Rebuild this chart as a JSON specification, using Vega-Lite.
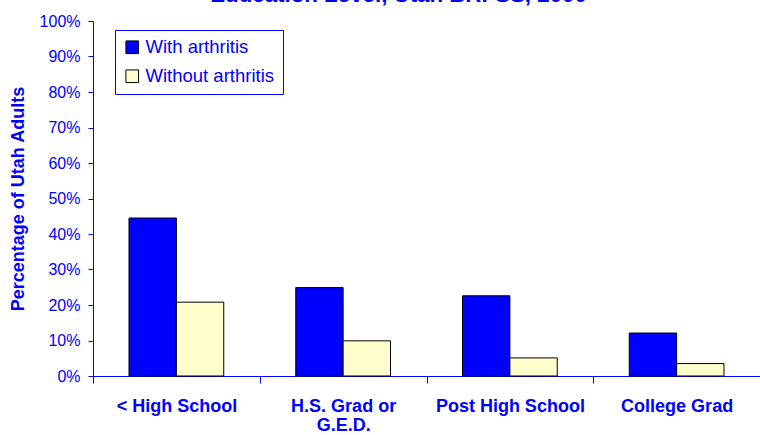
{
  "$schema": "https://vega.github.io/schema/vega-lite/v6.json",
  "width": 667,
  "height": 355,
  "autosize": {"type": "none"},
  "padding": {"left": 93, "top": 21, "right": 0, "bottom": 59},
  "background": "white",
  "title": {
    "text": "Education Level, Utah BRFSS, 2000",
    "font": "Liberation Sans",
    "fontSize": 22.3,
    "fontWeight": "bold",
    "color": "#0000FF",
    "anchor": "middle",
    "baseline": "alphabetic",
    "offset": 0,
    "dx": -28,
    "dy": 11
  },
  "data": {
    "values": [
      {"edu": "< High School", "group": "With arthritis", "pct": 0.445},
      {"edu": "< High School", "group": "Without arthritis", "pct": 0.208},
      {"edu": "H.S. Grad or|G.E.D.", "group": "With arthritis", "pct": 0.249},
      {"edu": "H.S. Grad or|G.E.D.", "group": "Without arthritis", "pct": 0.099},
      {"edu": "Post High School", "group": "With arthritis", "pct": 0.226},
      {"edu": "Post High School", "group": "Without arthritis", "pct": 0.051},
      {"edu": "College Grad", "group": "With arthritis", "pct": 0.121},
      {"edu": "College Grad", "group": "Without arthritis", "pct": 0.035}
    ]
  },
  "mark": {"type": "bar", "stroke": "black", "strokeWidth": 1},
  "encoding": {
    "x": {
      "field": "edu",
      "type": "nominal",
      "sort": null,
      "scale": {"paddingInner": 0, "paddingOuter": 0},
      "axis": {
        "title": null,
        "labelAngle": 0,
        "labelExpr": "split(datum.label, '|')",
        "labelFont": "Liberation Sans",
        "labelFontSize": 18,
        "labelFontWeight": "bold",
        "labelColor": "#0000FF",
        "labelLineHeight": 19,
        "labelPadding": 14,
        "labelBaseline": "top",
        "tickBand": "extent",
        "tickColor": "#0000FF",
        "tickSize": 7,
        "domainColor": "#0000FF",
        "grid": false
      }
    },
    "xOffset": {
      "field": "group",
      "type": "nominal",
      "scale": {"paddingInner": 0, "paddingOuter": 0.76}
    },
    "y": {
      "field": "pct",
      "type": "quantitative",
      "scale": {"domain": [0, 1], "nice": false},
      "axis": {
        "title": "Percentage of Utah Adults",
        "titleFont": "Liberation Sans",
        "titleFontSize": 18,
        "titleFontWeight": "bold",
        "titleColor": "#0000FF",
        "titlePadding": 12,
        "format": ".0%",
        "values": [0, 0.1, 0.2, 0.3, 0.4, 0.5, 0.6, 0.7, 0.8, 0.9, 1],
        "labelFont": "Liberation Sans",
        "labelFontSize": 16,
        "labelColor": "#0000FF",
        "labelPadding": 8,
        "tickColor": "#0000FF",
        "tickSize": 5,
        "domainColor": "#0000FF",
        "grid": false
      }
    },
    "fill": {
      "field": "group",
      "type": "nominal",
      "scale": {"domain": ["With arthritis", "Without arthritis"], "range": ["#0000FF", "#FFFFCC"]},
      "legend": {
        "title": null,
        "orient": "none",
        "legendX": 22,
        "legendY": 9,
        "direction": "vertical",
        "fillColor": "white",
        "strokeColor": "#0000FF",
        "padding": 8,
        "symbolType": "square",
        "symbolSize": 160,
        "symbolStrokeColor": "black",
        "symbolStrokeWidth": 1,
        "symbolOpacity": 1,
        "labelFont": "Liberation Sans",
        "labelFontSize": 18.5,
        "labelColor": "#0000FF",
        "labelOffset": 4,
        "rowPadding": 10
      }
    }
  },
  "config": {
    "view": {"stroke": null},
    "axis": {"domainWidth": 1, "tickWidth": 1}
  }
}
